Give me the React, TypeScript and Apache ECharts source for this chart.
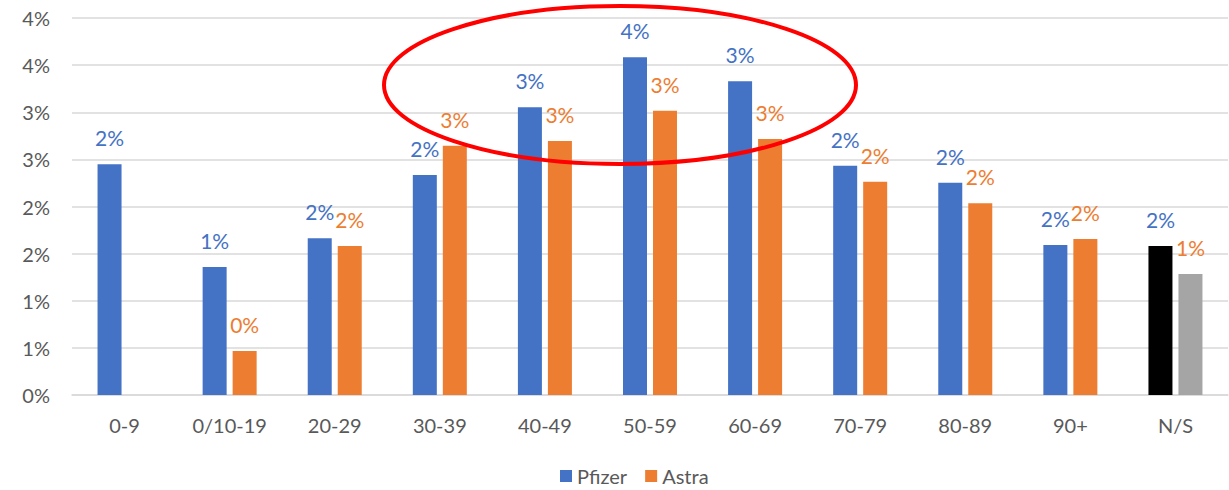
import React, { useEffect, useRef } from "react";
import * as echarts from "echarts";

const categories = ["0-9", "0/10-19", "20-29", "30-39", "40-49", "50-59", "60-69", "70-79", "80-89", "90+", "N/S"];
const pfizer = [2.448, 1.358, 1.663, 2.334, 3.052, 3.583, 3.328, 2.433, 2.253, 1.592, 1.581];
const astra = [0, 0.467, 1.581, 2.645, 2.695, 3.016, 2.716, 2.263, 2.034, 1.655, 1.284];
const yTicks = { min: 0, max: 4, interval: 0.5 };

const BLUE = "#4472C4";
const ORANGE = "#ED7D31";
const FONT = "Lato";

export default function App() {
  const ref = useRef<HTMLDivElement>(null);
  useEffect(() => {
    if (!ref.current) return;
    const chart = echarts.init(ref.current, null, { renderer: "svg" });
    const fmt = (v: number) => Math.round(v) + "%";
    const n = categories.length;
    chart.setOption({
      animation: false,
      textStyle: { fontFamily: FONT },
      grid: { left: 72, right: 1, top: 18, bottom: 95 },
      legend: {
        data: ["Pfizer", "Astra"],
        left: 555,
        top: 461,
        icon: "rect",
        itemWidth: 12,
        itemHeight: 12,
        itemGap: 18,
        textStyle: { color: "#595959", fontSize: 20, lineHeight: 20, fontFamily: FONT },
      },
      xAxis: {
        type: "category",
        data: categories,
        axisLine: { lineStyle: { color: "#D9D9D9", width: 1.5 } },
        axisTick: { show: false },
        axisLabel: { color: "#595959", fontSize: 20, margin: 20, fontFamily: FONT },
      },
      yAxis: {
        type: "value",
        min: yTicks.min,
        max: yTicks.max,
        interval: yTicks.interval,
        axisLine: { show: false },
        axisTick: { show: false },
        axisLabel: { color: "#595959", fontSize: 20, margin: 22, formatter: fmt, fontFamily: FONT },
        splitLine: { lineStyle: { color: "#D9D9D9", width: 1.5 } },
      },
      series: [
        {
          name: "Pfizer",
          type: "bar",
          barWidth: 24,
          barGap: "25%",
          itemStyle: { color: BLUE },
          data: pfizer.map((v, i) =>
            i === n - 1 ? { value: v, itemStyle: { color: "#000000" } } : v
          ),
          label: {
            show: true,
            position: "top",
            distance: 16,
            color: BLUE,
            fontSize: 21,
            fontFamily: FONT,
            formatter: (p: any) => fmt(p.value),
          },
        },
        {
          name: "Astra",
          type: "bar",
          barWidth: 24,
          itemStyle: { color: ORANGE },
          data: astra.map((v, i) =>
            i === n - 1 ? { value: v, itemStyle: { color: "#A5A5A5" } } : v
          ),
          label: {
            show: true,
            position: "top",
            distance: 16,
            color: ORANGE,
            fontSize: 21,
            fontFamily: FONT,
            formatter: (p: any) => (p.value === 0 ? "" : fmt(p.value)),
          },
        },
      ],
      graphic: [
        {
          type: "ellipse",
          shape: { cx: 620, cy: 85, rx: 236, ry: 79 },
          style: { fill: "none", stroke: "#FF0000", lineWidth: 4 },
          z: 100,
        },
      ],
    });
    return () => chart.dispose();
  }, []);
  return (
    <div
      ref={ref}
      style={{ position: "fixed", left: 0, top: 0, width: 1229, height: 490, background: "#fff" }}
    />
  );
}
